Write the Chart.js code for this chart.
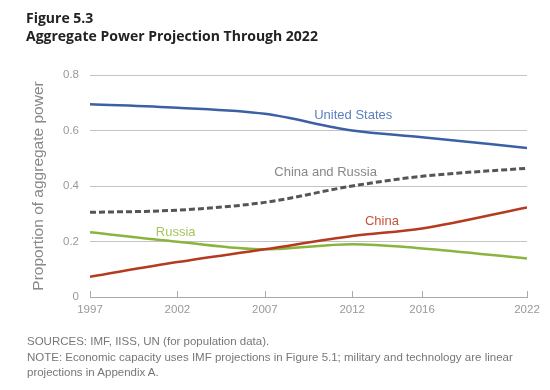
<!DOCTYPE html>
<html>
<head>
<meta charset="utf-8">
<script src="https://cdn.jsdelivr.net/npm/chart.js@4/dist/chart.umd.min.js"></script>
<style>
  html, body { margin: 0; padding: 0; background: #fff; }
  #wrap { position: relative; width: 550px; height: 390px; overflow: hidden; }
  #c { position: absolute; left: 0; top: 0; }
  .title { position: absolute; left: 26px; font-family: "Open Sans", sans-serif; font-weight: 700; font-size: 14px; color: #222; white-space: nowrap; }
  .note { position: absolute; left: 27px; font-family: "Liberation Sans", Arial, sans-serif; font-size: 11.5px; color: #777; white-space: nowrap; }
</style>
</head>
<body>
<div id="wrap">
  <canvas id="c" width="550" height="390"></canvas>
  <div class="title" style="top:8px;">Figure 5.3</div>
  <div class="title" style="top:26px;">Aggregate Power Projection Through 2022</div>
  <div class="note" style="top:335px;">SOURCES: IMF, IISS, UN (for population data).</div>
  <div class="note" style="top:351px;">NOTE: Economic capacity uses IMF projections in Figure 5.1; military and technology are linear</div>
  <div class="note" style="top:366px;">projections in Appendix A.</div>
</div>
<script>
const years = [1997, 2002, 2007, 2012, 2016, 2022];
const yTicks = [0, 0.2, 0.4, 0.6, 0.8];
const unitedStates = [0.695, 0.682, 0.660, 0.600, 0.576, 0.537];
const chinaAndRussia = [0.305, 0.313, 0.341, 0.400, 0.435, 0.464];
const china = [0.073, 0.126, 0.172, 0.220, 0.247, 0.323];
const russia = [0.233, 0.199, 0.172, 0.190, 0.175, 0.139];

const seriesLabels = [
  { text: 'United States', x: 2012.06, y: 0.655, color: '#5b7fbf' },
  { text: 'China and Russia', x: 2010.48, y: 0.449, color: '#888888' },
  { text: 'China', x: 2013.7, y: 0.273, color: '#c4553a' },
  { text: 'Russia', x: 2001.9, y: 0.232, color: '#a6c65e' }
];

function pts(vals) { return years.map((y, i) => ({ x: y, y: vals[i] })); }

const labelPlugin = {
  id: 'seriesLabels',
  afterDatasetsDraw(chart) {
    const ctx = chart.ctx, xs = chart.scales.x, ys = chart.scales.y;
    ctx.save();
    ctx.font = '13px "Liberation Sans", Arial, sans-serif';
    ctx.textAlign = 'center';
    ctx.textBaseline = 'middle';
    seriesLabels.forEach(l => {
      ctx.fillStyle = l.color;
      ctx.fillText(l.text, xs.getPixelForValue(l.x), ys.getPixelForValue(l.y));
    });
    // upward tick marks on x axis
    ctx.strokeStyle = '#aaaaaa';
    ctx.lineWidth = 1;
    const y0 = ys.getPixelForValue(0);
    years.forEach(yr => {
      const px = Math.round(xs.getPixelForValue(yr)) + 0.5;
      ctx.beginPath();
      ctx.moveTo(px, y0);
      ctx.lineTo(px, y0 - 6);
      ctx.stroke();
    });
    ctx.restore();
  }
};

new Chart(document.getElementById('c'), {
  type: 'line',
  data: {
    datasets: [
      { data: pts(unitedStates), borderColor: '#3d5fa6', borderWidth: 2.5 },
      { data: pts(chinaAndRussia), borderColor: '#555555', borderWidth: 3, borderDash: [6, 3] },
      { data: pts(china), borderColor: '#b53a1f', borderWidth: 2.5 },
      { data: pts(russia), borderColor: '#8bb43e', borderWidth: 2.5 }
    ]
  },
  options: {
    responsive: false,
    animation: false,
    events: [],
    layout: { padding: { top: 75, left: 0, right: 23, bottom: 0 } },
    elements: {
      point: { radius: 0 },
      line: { cubicInterpolationMode: 'monotone', fill: false, borderCapStyle: 'butt' }
    },
    plugins: { legend: { display: false }, tooltip: { enabled: false } },
    scales: {
      x: {
        type: 'linear',
        min: 1997, max: 2022,
        afterBuildTicks(scale) { scale.ticks = years.map(v => ({ value: v })); },
        afterFit(scale) { scale.height = 93; },
        grid: { display: false, drawTicks: false },
        border: { display: true, color: '#aaaaaa', width: 1 },
        ticks: {
          color: '#999999',
          font: { family: '"Liberation Sans", Arial, sans-serif', size: 11.5 },
          padding: 6,
          maxRotation: 0,
          autoSkip: false,
          callback: v => String(v)
        }
      },
      y: {
        min: 0, max: 0.8,
        afterBuildTicks(scale) { scale.ticks = yTicks.map(v => ({ value: v })); },
        afterFit(scale) { scale.width = 90; },
        grid: { color: ctx => ctx.tick && ctx.tick.value === 0 ? 'rgba(0,0,0,0)' : '#c4c4c4', drawTicks: false, lineWidth: 1 },
        border: { display: false },
        ticks: {
          color: '#999999',
          font: { family: '"Liberation Sans", Arial, sans-serif', size: 11.5 },
          padding: 11,
          callback: v => String(v)
        },
        title: {
          display: true,
          text: 'Proportion of aggregate power',
          color: '#888888',
          font: { family: '"Liberation Sans", Arial, sans-serif', size: 15.5 },
          padding: { top: 29, bottom: 0 }
        }
      }
    }
  },
  plugins: [labelPlugin]
});
</script>
</body>
</html>
